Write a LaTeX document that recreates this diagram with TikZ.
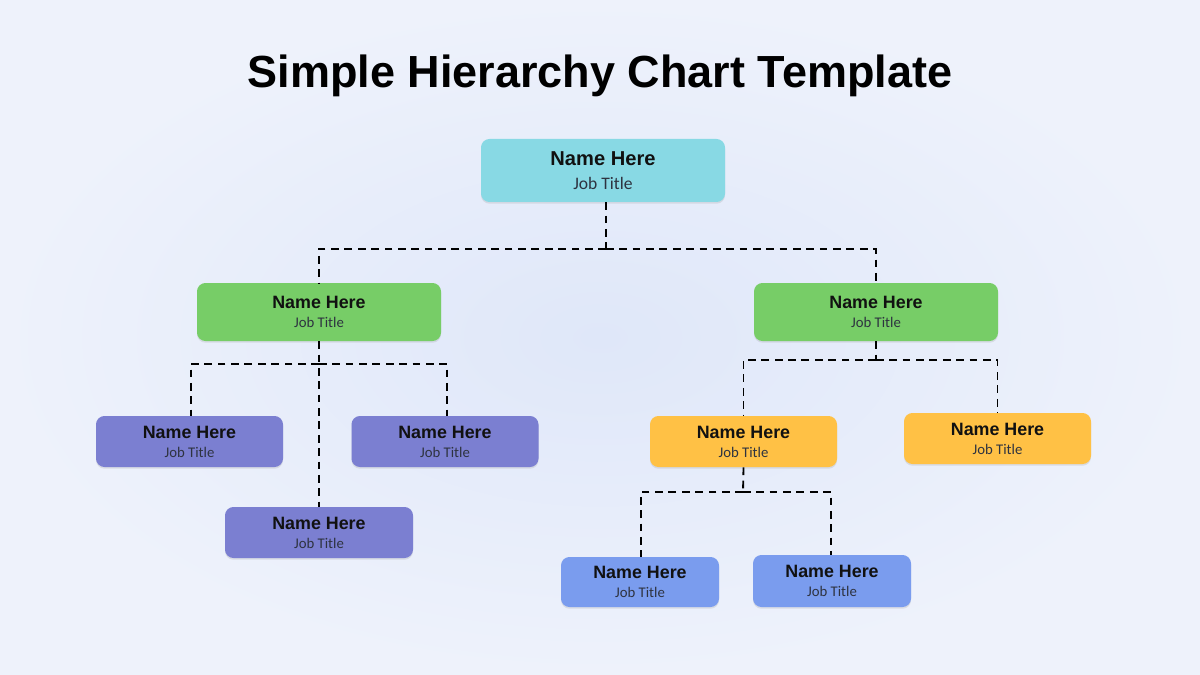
\documentclass[tikz,border=0pt]{standalone}
\usepackage{fontspec}
\setmainfont{Liberation Sans}
\newfontfamily\jobfont{Carlito}
\usetikzlibrary{shadows}
\definecolor{bgA}{HTML}{EEF2FB}
\definecolor{bgB}{HTML}{DFE7F9}
\definecolor{cyanbox}{HTML}{88D9E4}
\definecolor{greenbox}{HTML}{77CD67}
\definecolor{purplebox}{HTML}{7B7FD1}
\definecolor{orangebox}{HTML}{FFC145}
\definecolor{bluebox}{HTML}{7A9CEE}
\definecolor{namecol}{HTML}{111111}
\definecolor{jobcol}{HTML}{2E3340}
\begin{document}
\begin{tikzpicture}[x=0.025cm,y=-0.025cm,
  card/.style={rounded corners=6pt, draw=none, align=center, inner sep=0pt,
    drop shadow={shadow xshift=0pt, shadow yshift=-1.2pt, opacity=0.18}},
  link/.style={draw=black, line width=1.3pt, dash pattern=on 5.5pt off 4pt},
]
\shade[inner color=bgB, outer color=bgA] (0,0) rectangle (1200,675);
\useasboundingbox (0,0) rectangle (1200,675);
\node (title) at (600,76) {\fontsize{32}{36}\selectfont\bfseries Simple Hierarchy Chart Template};

\newcommand{\cardtext}[3]{{\fontsize{#1}{#1}\selectfont\bfseries\color{namecol}Name Here}\\[#3]{\jobfont\fontsize{#2}{#2}\selectfont\color{jobcol}Job Title}}

% nodes
\node[card, fill=cyanbox, minimum width=244*0.025cm, minimum height=63*0.025cm] (top) at (603,170.5) {\cardtext{14.3}{12.5}{5pt}};
\node[card, fill=greenbox, minimum width=244*0.025cm, minimum height=58*0.025cm] (gl) at (319,312) {\cardtext{12.7}{10.5}{1.5pt}};
\node[card, fill=greenbox, minimum width=244*0.025cm, minimum height=58*0.025cm] (gr) at (876,312) {\cardtext{12.7}{10.5}{1.5pt}};
\node[card, fill=purplebox, minimum width=187*0.025cm, minimum height=51*0.025cm] (pl) at (189.5,441.5) {\cardtext{12.7}{10.5}{1.5pt}};
\node[card, fill=purplebox, minimum width=187*0.025cm, minimum height=51*0.025cm] (pr) at (445,441.5) {\cardtext{12.7}{10.5}{1.5pt}};
\node[card, fill=purplebox, minimum width=188*0.025cm, minimum height=51*0.025cm] (pb) at (319,532.5) {\cardtext{12.7}{10.5}{1.5pt}};
\node[card, fill=orangebox, minimum width=187*0.025cm, minimum height=51*0.025cm] (ol) at (743.5,441.5) {\cardtext{12.7}{10.5}{1.5pt}};
\node[card, fill=orangebox, minimum width=187*0.025cm, minimum height=51*0.025cm] (or) at (997.5,438.5) {\cardtext{12.7}{10.5}{1.5pt}};
\node[card, fill=bluebox, minimum width=158*0.025cm, minimum height=50*0.025cm] (bl) at (640,582) {\cardtext{12.7}{10.5}{1.5pt}};
\node[card, fill=bluebox, minimum width=158*0.025cm, minimum height=52*0.025cm] (br) at (832,581) {\cardtext{12.7}{10.5}{1.5pt}};

% connectors
\coordinate (j1) at (606,249);
\coordinate (j2) at (319,364);
\coordinate (j3) at (876,360);
\coordinate (j4) at (743,492);
\draw[link] (top.south -| j1) -- (j1);
\draw[link] (j1) -| (gl.north);
\draw[link] (j1) -| (gr.north);
\draw[link] (gl.south) -- (pb.north);
\draw[link] (j2) -| ([xshift=1.5*0.025cm]pl.north);
\draw[link] (j2) -| ([xshift=2*0.025cm]pr.north);
\draw[link] (gr.south) -- (j3);
\draw[link] (j3) -| (ol.north);
\draw[link] (j3) -| (or.north);
\draw[link] (ol.south) -- (j4);
\draw[link] (j4) -| ([xshift=1*0.025cm]bl.north);
\draw[link] (j4) -| ([xshift=-1*0.025cm]br.north);
\end{tikzpicture}
\end{document}
